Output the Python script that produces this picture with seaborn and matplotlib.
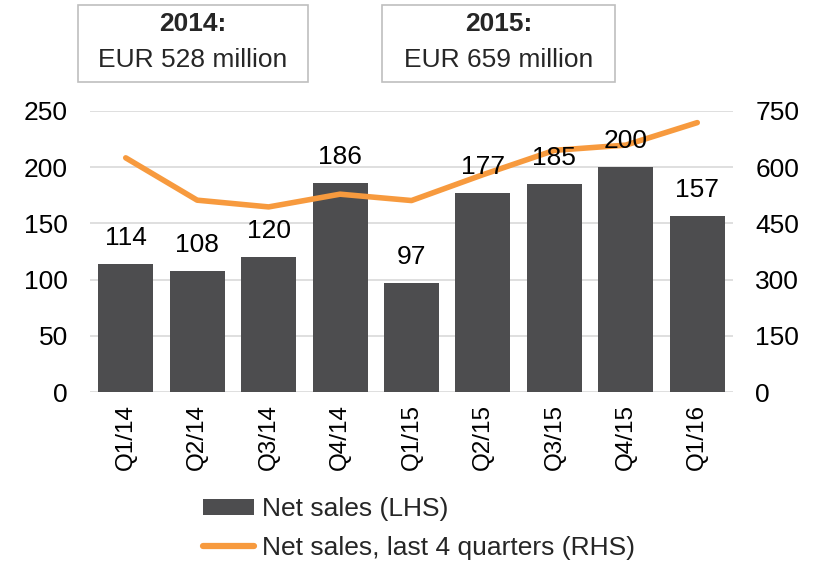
import numpy as np
import pandas as pd
import matplotlib
matplotlib.use("Agg")
import matplotlib.pyplot as plt
import seaborn as sns
from matplotlib.patches import Patch, Rectangle
from matplotlib.lines import Line2D

quarters = ["Q1/14", "Q2/14", "Q3/14", "Q4/14", "Q1/15", "Q2/15", "Q3/15", "Q4/15", "Q1/16"]
net_sales = [114, 108, 120, 186, 97, 177, 185, 200, 157]
ltm_sales = [625, 512, 494, 528, 511, 580, 645, 659, 719]
left_ticks = [0, 50, 100, 150, 200, 250]
right_ticks = [0, 150, 300, 450, 600, 750]
box_titles = ["2014:", "2015:"]
box_texts = ["EUR 528 million", "EUR 659 million"]
legend_labels = ["Net sales (LHS)", "Net sales, last 4 quarters (RHS)"]

BAR = "#4d4d4f"
ORANGE = "#f79a3e"
GRID = "#d9d9d9"
FS = 19
XFS = 17.5

sns.set_theme(style="white")
plt.rcParams["font.family"] = ["Liberation Sans", "DejaVu Sans"]

W, H = 817, 567
fig = plt.figure(figsize=(W / 100, H / 100), dpi=100)
ax = fig.add_axes([90 / W, 1 - 392 / H, 643 / W, 281 / H])

df = pd.DataFrame({"quarter": quarters, "sales": net_sales})
sns.barplot(data=df, x="quarter", y="sales", color=BAR, saturation=1, width=0.77, ax=ax, zorder=3)
for p in ax.patches:
    p.set_edgecolor("none")

ax.set_ylim(0, 250)
ax.set_yticks(left_ticks)
ax.set_xlim(-0.5, len(quarters) - 0.5)
ax.set_xlabel("")
ax.set_ylabel("")
ax.grid(axis="y", color=GRID, linewidth=1.2, zorder=0)
ax.set_axisbelow(True)
for s in ax.spines.values():
    s.set_visible(False)
ax.tick_params(axis="y", length=0, pad=16, labelsize=FS, colors="black")
ax.tick_params(axis="x", length=0, pad=9, labelsize=XFS, colors="black", labelrotation=90)

ax2 = ax.twinx()
sns.lineplot(x=np.arange(len(quarters)), y=ltm_sales, color=ORANGE, linewidth=4, ax=ax2, zorder=5)
ax2.set_ylim(0, 750)
ax2.set_yticks(right_ticks)
ax2.set_xlim(-0.5, len(quarters) - 0.5)
for s in ax2.spines.values():
    s.set_visible(False)
ax2.tick_params(axis="y", length=0, pad=16, labelsize=FS, colors="black")
ax2.grid(False)

# bar value labels drawn on top of the line
for i, v in enumerate(net_sales):
    ax2.annotate(str(v), xy=(i, v), xycoords=ax.transData, xytext=(0, 10),
                 textcoords="offset points", ha="center", va="bottom",
                 fontsize=FS, color="black", zorder=10)

# header boxes
boxes = [(78, 308), (382, 615)]
for (x0, x1), t, s in zip(boxes, box_titles, box_texts):
    fig.patches.append(Rectangle((x0 / W, 1 - 82 / H), (x1 - x0) / W, 77 / H,
                                 transform=fig.transFigure, facecolor="white",
                                 edgecolor="#bfbfbf", linewidth=1.2))
    cx = (x0 + x1) / 2 / W
    fig.text(cx, 1 - 24 / H, t, ha="center", va="center", fontsize=FS, fontweight="bold")
    fig.text(cx, 1 - 60 / H, s, ha="center", va="center", fontsize=FS)

handles = [Patch(facecolor=BAR, edgecolor="none"),
           Line2D([0], [0], color=ORANGE, linewidth=4.5)]
fig.legend(handles, legend_labels, loc="upper left", bbox_to_anchor=(203 / W, 1 - 497 / H),
           frameon=False, fontsize=FS, handlelength=1.95, handleheight=0.55, handletextpad=0.3,
           labelspacing=0.55, borderaxespad=0, borderpad=0)

fig.savefig("out.png", dpi=100)
